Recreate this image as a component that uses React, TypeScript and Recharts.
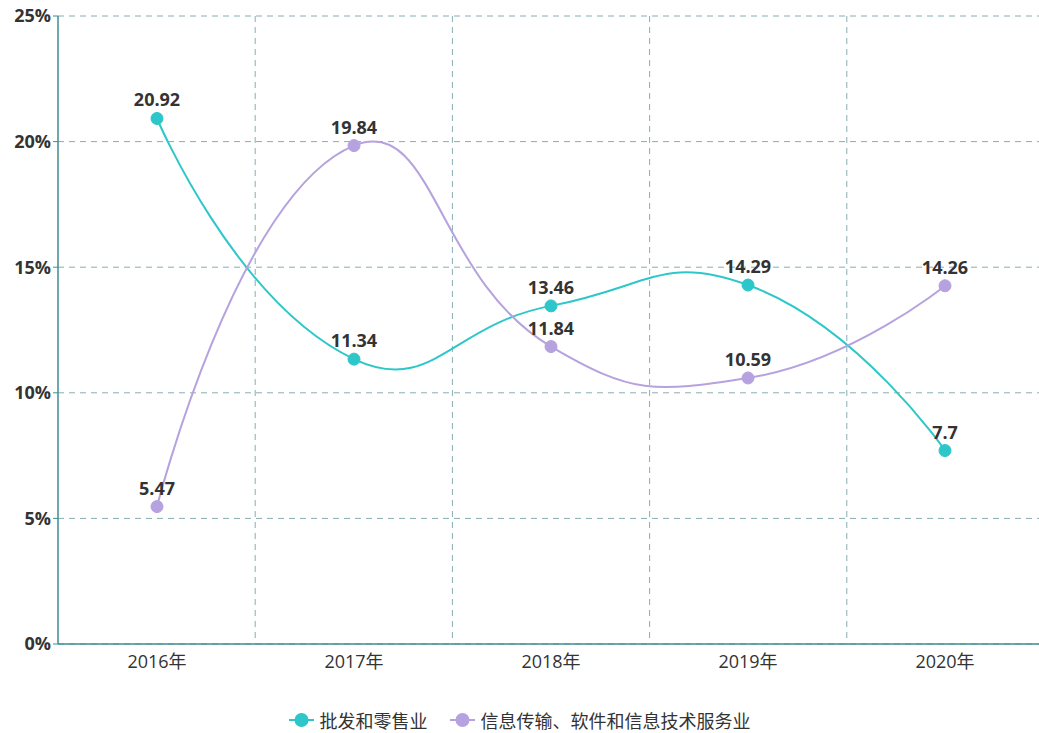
import React from 'react';
import { LineChart, Line, XAxis, YAxis, CartesianGrid, LabelList } from 'recharts';

const years = ['2016年', '2017年', '2018年', '2019年', '2020年'];
const retail = [20.92, 11.34, 13.46, 14.29, 7.7];
const software = [5.47, 19.84, 11.84, 10.59, 14.26];
const yTicks = [0, 5, 10, 15, 20, 25];

const seriesNames = ['批发和零售业', '信息传输、软件和信息技术服务业'];
const colors = ['#2ec7c9', '#b6a2de'];

const data = years.map((year, i) => ({ year, retail: retail[i], software: software[i] }));

const FONT = '"Open Sans", "Noto Sans CJK SC", sans-serif';
const AXIS = '#3f8d93';
const GRID = '#86aeb2';

// echarts-like smoothing (smooth = 0.5), control points scaled by segment lengths
function echartsSmooth(context: any) {
  let pts: [number, number][] = [];
  return {
    areaStart() {},
    areaEnd() {},
    lineStart() {
      pts = [];
    },
    lineEnd() {
      if (!pts.length) return;
      const n = pts.length;
      const cps: [number, number][][] = pts.map((cur, i) => {
        const prev = pts[i - 1] || cur;
        const next = pts[i + 1] || cur;
        if (i === 0 || i === n - 1) return [cur, cur];
        const vx = (next[0] - prev[0]) * 0.5;
        const vy = (next[1] - prev[1]) * 0.5;
        const d0 = Math.hypot(cur[0] - prev[0], cur[1] - prev[1]);
        const d1 = Math.hypot(next[0] - cur[0], next[1] - cur[1]);
        const r = d1 / (d0 + d1 || 1);
        return [
          [cur[0] - vx * (1 - r), cur[1] - vy * (1 - r)],
          [cur[0] + vx * r, cur[1] + vy * r],
        ];
      });
      context.moveTo(pts[0][0], pts[0][1]);
      for (let i = 1; i < n; i++) {
        const c1 = cps[i - 1][1];
        const c2 = cps[i][0];
        context.bezierCurveTo(c1[0], c1[1], c2[0], c2[1], pts[i][0], pts[i][1]);
      }
    },
    point(x: number, y: number) {
      pts.push([+x, +y]);
    },
  };
}

function Legend() {
  return (
    <div
      style={{
        position: 'absolute',
        top: 707,
        left: 0,
        width: 1039,
        display: 'flex',
        justifyContent: 'center',
        alignItems: 'center',
        fontFamily: FONT,
        fontSize: 18,
        color: '#333',
      }}
    >
      {seriesNames.map((name, i) => (
        <div key={name} style={{ display: 'flex', alignItems: 'center', marginLeft: i ? 22 : 0 }}>
          <svg width={25} height={16} style={{ marginRight: 6 }}>
            <line x1={0} y1={8} x2={25} y2={8} stroke={colors[i]} strokeWidth={2} />
            <circle cx={12.5} cy={8} r={7} fill={colors[i]} />
          </svg>
          <span>{name}</span>
        </div>
      ))}
    </div>
  );
}

export default function App() {
  return (
    <div style={{ position: 'absolute', left: 0, top: 0, width: 1039, height: 733, overflow: 'hidden', background: '#fff' }}>
      <LineChart width={1044} height={733} data={data} margin={{ top: 16, right: 0, left: 0, bottom: 59 }}>
        <CartesianGrid
          stroke={GRID}
          strokeDasharray="6 5"
          verticalCoordinatesGenerator={({ offset }: any) =>
            years.slice(1).map((_, i) => offset.left + ((i + 1) * offset.width) / years.length)
          }
        />
        <XAxis
          dataKey="year"
          height={30}
          padding={{ left: 99, right: 99 }}
          axisLine={{ stroke: AXIS, strokeWidth: 1.5 }}
          tickLine={false}
          tick={{ fill: '#333', fontSize: 18, fontFamily: FONT }}
          tickMargin={5}
        />
        <YAxis
          width={58}
          domain={[0, 25]}
          ticks={yTicks}
          tickFormatter={(v) => `${v}%`}
          axisLine={{ stroke: AXIS, strokeWidth: 1.5 }}
          tickLine={{ stroke: AXIS }}
          tickSize={5}
          tick={{ fill: '#333', fontSize: 18, fontWeight: 700, fontFamily: FONT }}
        />
        <Line
          dataKey="retail"
          name={seriesNames[0]}
          type={echartsSmooth as any}
          stroke={colors[0]}
          strokeWidth={2}
          dot={{ r: 6, fill: colors[0], stroke: colors[0], strokeWidth: 1 }}
          isAnimationActive={false}
        >
          <LabelList dataKey="retail" position="top" offset={12} fill="#333" fontSize={18} fontWeight={700} fontFamily={FONT} />
        </Line>
        <Line
          dataKey="software"
          name={seriesNames[1]}
          type={echartsSmooth as any}
          stroke={colors[1]}
          strokeWidth={2}
          dot={{ r: 6, fill: colors[1], stroke: colors[1], strokeWidth: 1 }}
          isAnimationActive={false}
        >
          <LabelList dataKey="software" position="top" offset={12} fill="#333" fontSize={18} fontWeight={700} fontFamily={FONT} />
        </Line>
      </LineChart>
      <Legend />
    </div>
  );
}
